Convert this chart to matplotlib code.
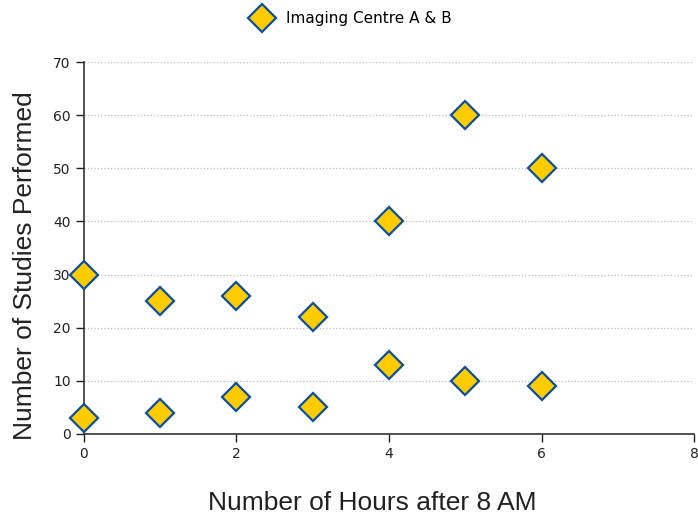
import matplotlib
matplotlib.use("Agg")
import matplotlib.pyplot as plt

# Hours after 8 AM and number of studies (centre A and B together)
hours = [0, 1, 2, 3, 4, 5, 6, 0, 1, 2, 3, 4, 5, 6]
studies = [30, 25, 26, 22, 40, 60, 50, 3, 4, 7, 5, 13, 10, 9]
series_name = "Imaging Centre A & B"

fig = plt.figure(figsize=(6.98, 5.19), dpi=100)
ax = fig.add_axes([0.1203, 0.1638, 0.874, 0.7167])

ax.plot(hours, studies, linestyle="none", marker="D", markersize=14.5,
        markerfacecolor="#FFCC00", markeredgecolor="#0B4EA2",
        markeredgewidth=1.6, label=series_name, clip_on=False, zorder=3)

ax.set_xlim(0, 8)
ax.set_ylim(0, 70)
ax.set_xticks([0, 2, 4, 6, 8])
ax.set_yticks(range(0, 71, 10))
ax.tick_params(labelsize=10, colors="#222222", length=6, width=1)

ax.grid(axis="y", linestyle=":", color="#bbbbbb", linewidth=0.9)
ax.set_axisbelow(True)
for side in ["top", "right"]:
    ax.spines[side].set_visible(False)
for side in ["left", "bottom"]:
    ax.spines[side].set_color("#333333")
    ax.spines[side].set_linewidth(1.2)

# axis titles sit a bit off-centre in the original
fig.text(0.533, 0.031, "Number of Hours after 8 AM", fontsize=19,
         family="Liberation Sans", color="#222222", ha="center", va="center")
fig.text(0.036, 0.489, "Number of Studies Performed", fontsize=19,
         family="Liberation Sans", color="#222222", ha="center", va="center",
         rotation=90)

fig.legend(loc="upper center", bbox_to_anchor=(0.5, 1.005), frameon=False,
           fontsize=11, handletextpad=0.6)

fig.savefig("out.png", dpi=100)
